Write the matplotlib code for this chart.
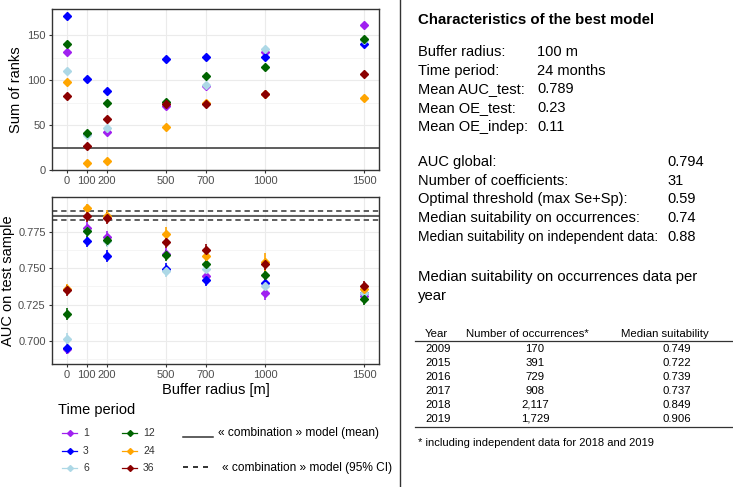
import matplotlib
matplotlib.use('Agg')
import matplotlib.pyplot as plt
from matplotlib import font_manager as fm

# ---------------- data ----------------
buffers = [0, 100, 200, 500, 700, 1000, 1500]
periods = ['1', '3', '6', '12', '24', '36']
colors = ['#A020F0', '#0000FF', '#ADD8E6', '#006400', '#FFA500', '#8B0000']

rank_1 = [131, 40, 42, 71, 93, 131, 161]
rank_3 = [171, 101, 88, 123, 126, 126, 140]
rank_6 = [110, 39, 47, 74, 95, 134, 144]
rank_12 = [140, 41, 74, 76, 105, 114, 146]
rank_24 = [98, 8, 10, 48, 74, 85, 80]
rank_36 = [82, 27, 57, 73, 73, 85, 107]

auc_1 = [0.6945, 0.7780, 0.7720, 0.7603, 0.7450, 0.7330, 0.7310]
auc_3 = [0.6947, 0.7687, 0.7586, 0.7498, 0.7420, 0.7397, 0.7330]
auc_6 = [0.7012, 0.7760, 0.7690, 0.7479, 0.7493, 0.7376, 0.7330]
auc_12 = [0.7185, 0.7757, 0.7694, 0.7591, 0.7530, 0.7458, 0.7287]
auc_24 = [0.7360, 0.7918, 0.7862, 0.7736, 0.7584, 0.7544, 0.7357]
auc_36 = [0.7348, 0.7860, 0.7848, 0.7685, 0.7631, 0.7528, 0.7376]

err_1 = [0.004, 0.004, 0.004, 0.004, 0.004, 0.005, 0.005]
err_3 = [0.004, 0.004, 0.004, 0.004, 0.004, 0.004, 0.004]
err_6 = [0.004, 0.004, 0.004, 0.004, 0.004, 0.004, 0.004]
err_12 = [0.004, 0.004, 0.004, 0.004, 0.004, 0.004, 0.004]
err_24 = [0.003, 0.003, 0.004, 0.005, 0.004, 0.006, 0.004]
err_36 = [0.004, 0.004, 0.004, 0.004, 0.004, 0.004, 0.004]

rank_series = [rank_1, rank_3, rank_6, rank_12, rank_24, rank_36]
auc_series = [auc_1, auc_3, auc_6, auc_12, auc_24, auc_36]
err_series = [err_1, err_3, err_6, err_12, err_24, err_36]

comb_rank = 25
comb_auc_mean = 0.7861
comb_auc_ci = [0.7838, 0.7897]

rank_ticks = [0, 50, 100, 150]
auc_ticks = [0.700, 0.725, 0.750, 0.775]

best_labels = ['Buffer radius:', 'Time period:', 'Mean AUC_test:', 'Mean OE_test:', 'Mean OE_indep:']
best_values = ['100 m', '24 months', '0.789', '0.23', '0.11']
glob_labels = ['AUC global:', 'Number of coefficients:', 'Optimal threshold (max Se+Sp):',
               'Median suitability on occurrences:', 'Median suitability on independent data:']
glob_values = ['0.794', '31', '0.59', '0.74', '0.88']

tab_years = ['2009', '2015', '2016', '2017', '2018', '2019']
tab_counts = ['170', '391', '729', '908', '2,117', '1,729']
tab_suit = ['0.749', '0.722', '0.739', '0.737', '0.849', '0.906']

# ---------------- style ----------------
plt.rcParams['font.family'] = ['Liberation Sans', 'DejaVu Sans']
names = {f.name for f in fm.fontManager.ttflist}
narrow = 'Liberation Sans Narrow' if 'Liberation Sans Narrow' in names else 'Liberation Sans'

W, H = 733, 487
fig = plt.figure(figsize=(W / 100, H / 100), dpi=100)


def px_axes(l, t, r, b):
    return fig.add_axes([l / W, 1 - b / H, (r - l) / W, (b - t) / H])


def style(ax):
    for s in ax.spines.values():
        s.set_color('#333333')
        s.set_linewidth(1.0)
    ax.tick_params(colors='#333333', labelcolor='#4D4D4D', labelsize=8, length=2.5, width=0.8, pad=2)
    ax.set_xlim(-75, 1575)
    ax.set_xticks(buffers)
    ax.set_xticklabels([str(b) for b in buffers])
    ax.grid(True, which='major', color='#EBEBEB', linewidth=0.8)
    ax.grid(True, which='minor', axis='y', color='#F2F2F2', linewidth=0.5)
    ax.set_axisbelow(True)


ax1 = px_axes(52, 9, 379, 170)
style(ax1)
ax1.set_ylim(0, 179)
ax1.set_yticks(rank_ticks)
ax1.set_yticks([25, 75, 125], minor=True)
ax1.tick_params(which='minor', length=0)
ax1.axhline(comb_rank, color='#333333', linewidth=1.1, zorder=2)
for ys, c in zip(rank_series, colors):
    ax1.plot(buffers, ys, linestyle='none', marker='D', markersize=4.4, color=c, zorder=3)
ax1.set_ylabel('Sum of ranks', fontsize=10.5, labelpad=3)

ax2 = px_axes(52, 197, 379, 364)
style(ax2)
ax2.set_ylim(0.6838, 0.7995)
ax2.set_yticks(auc_ticks)
ax2.set_yticklabels(['%.3f' % v for v in auc_ticks])
ax2.set_yticks([0.6875, 0.7125, 0.7375, 0.7625, 0.7875], minor=True)
ax2.tick_params(which='minor', length=0)
ax2.axhline(comb_auc_mean, color='#333333', linewidth=1.1, zorder=2)
for v in comb_auc_ci:
    ax2.axhline(v, color='#333333', linewidth=1.1, linestyle=(0, (3.5, 2.5)), zorder=2)
for ys, es, c in zip(auc_series, err_series, colors):
    ax2.errorbar(buffers, ys, yerr=es, fmt='D', markersize=4.4, color=c,
                 ecolor=c, elinewidth=1.2, capsize=0, zorder=3)
ax2.set_ylabel('AUC on test sample', fontsize=10.5, labelpad=2)
ax2.set_xlabel('Buffer radius [m]', fontsize=10.5, labelpad=2)

# ---------------- overlay (legend, text, table) ----------------
ov = fig.add_axes([0, 0, 1, 1])
ov.set_xlim(0, W)
ov.set_ylim(H, 0)
ov.axis('off')

ov.text(58, 410, 'Time period', fontsize=10.5, va='center', ha='left')
leg_rows = [433, 451, 468]
for i, (p, c) in enumerate(zip(periods, colors)):
    col = i // 3
    row = i % 3
    x0 = 62 + col * 60
    y = leg_rows[row]
    ov.plot([x0, x0 + 15], [y, y], color=c, linewidth=0.9)
    ov.plot([x0 + 7.5], [y], marker='D', markersize=3, color=c, linestyle='none')
    ov.text(x0 + 21, y, p, fontsize=7.5, va='center', ha='left', color='#333333')

ov.plot([183, 213], [437, 437], color='#333333', linewidth=1.1)
ov.text(218, 433, '« combination » model (mean)', fontsize=8.6, va='center', ha='left')
ov.plot([183, 213], [467, 467], color='#111111', linewidth=1.2, linestyle=(0, (3, 3)))
ov.text(222, 468, '« combination » model (95% CI)', fontsize=8.6, va='center', ha='left')

# divider
ov.plot([400, 400], [0, H], color='#333333', linewidth=1.0)

ov.text(418, 20, 'Characteristics of the best model', fontsize=10.8, fontweight='bold',
        va='center', ha='left')
for i, (l, v) in enumerate(zip(best_labels, best_values)):
    y = 52 + i * 18.7
    ov.text(418, y, l, fontsize=10.5, va='center', ha='left')
    ov.text(537, y, v, fontsize=10.5, va='center', ha='left')
for i, (l, v) in enumerate(zip(glob_labels, glob_values)):
    y = 162 + i * 18.7
    fs = 9.9 if i == len(glob_labels) - 1 else 10.5
    ov.text(418, y, l, fontsize=fs, va='center', ha='left')
    ov.text(667, y, v, fontsize=10.5, va='center', ha='left')

ov.text(418, 277, 'Median suitability on occurrences data per', fontsize=10.7, va='center', ha='left')
ov.text(418, 296, 'year', fontsize=10.7, va='center', ha='left')

tfs = 9.8 if narrow != 'Liberation Sans' else 8.2
ov.text(425, 334, 'Year', fontsize=tfs, family=narrow, va='center', ha='left')
ov.text(527, 334, 'Number of occurrences*', fontsize=tfs, family=narrow, va='center', ha='center')
ov.text(665, 334, 'Median suitability', fontsize=tfs, family=narrow, va='center', ha='center')
ov.plot([415, 733], [341, 341], color='#333333', linewidth=0.9)
for i, (yr, n, s) in enumerate(zip(tab_years, tab_counts, tab_suit)):
    y = 349 + i * 13.9
    ov.text(425, y, yr, fontsize=tfs, family=narrow, va='center', ha='left')
    ov.text(535, y, n, fontsize=tfs, family=narrow, va='center', ha='center')
    ov.text(677, y, s, fontsize=tfs, family=narrow, va='center', ha='center')
ov.plot([415, 733], [427, 427], color='#333333', linewidth=0.9)
ov.text(418, 443, '* including independent data for 2018 and 2019', fontsize=8.0,
        family='Liberation Sans', va='center', ha='left')

fig.savefig('out.png', dpi=100)
